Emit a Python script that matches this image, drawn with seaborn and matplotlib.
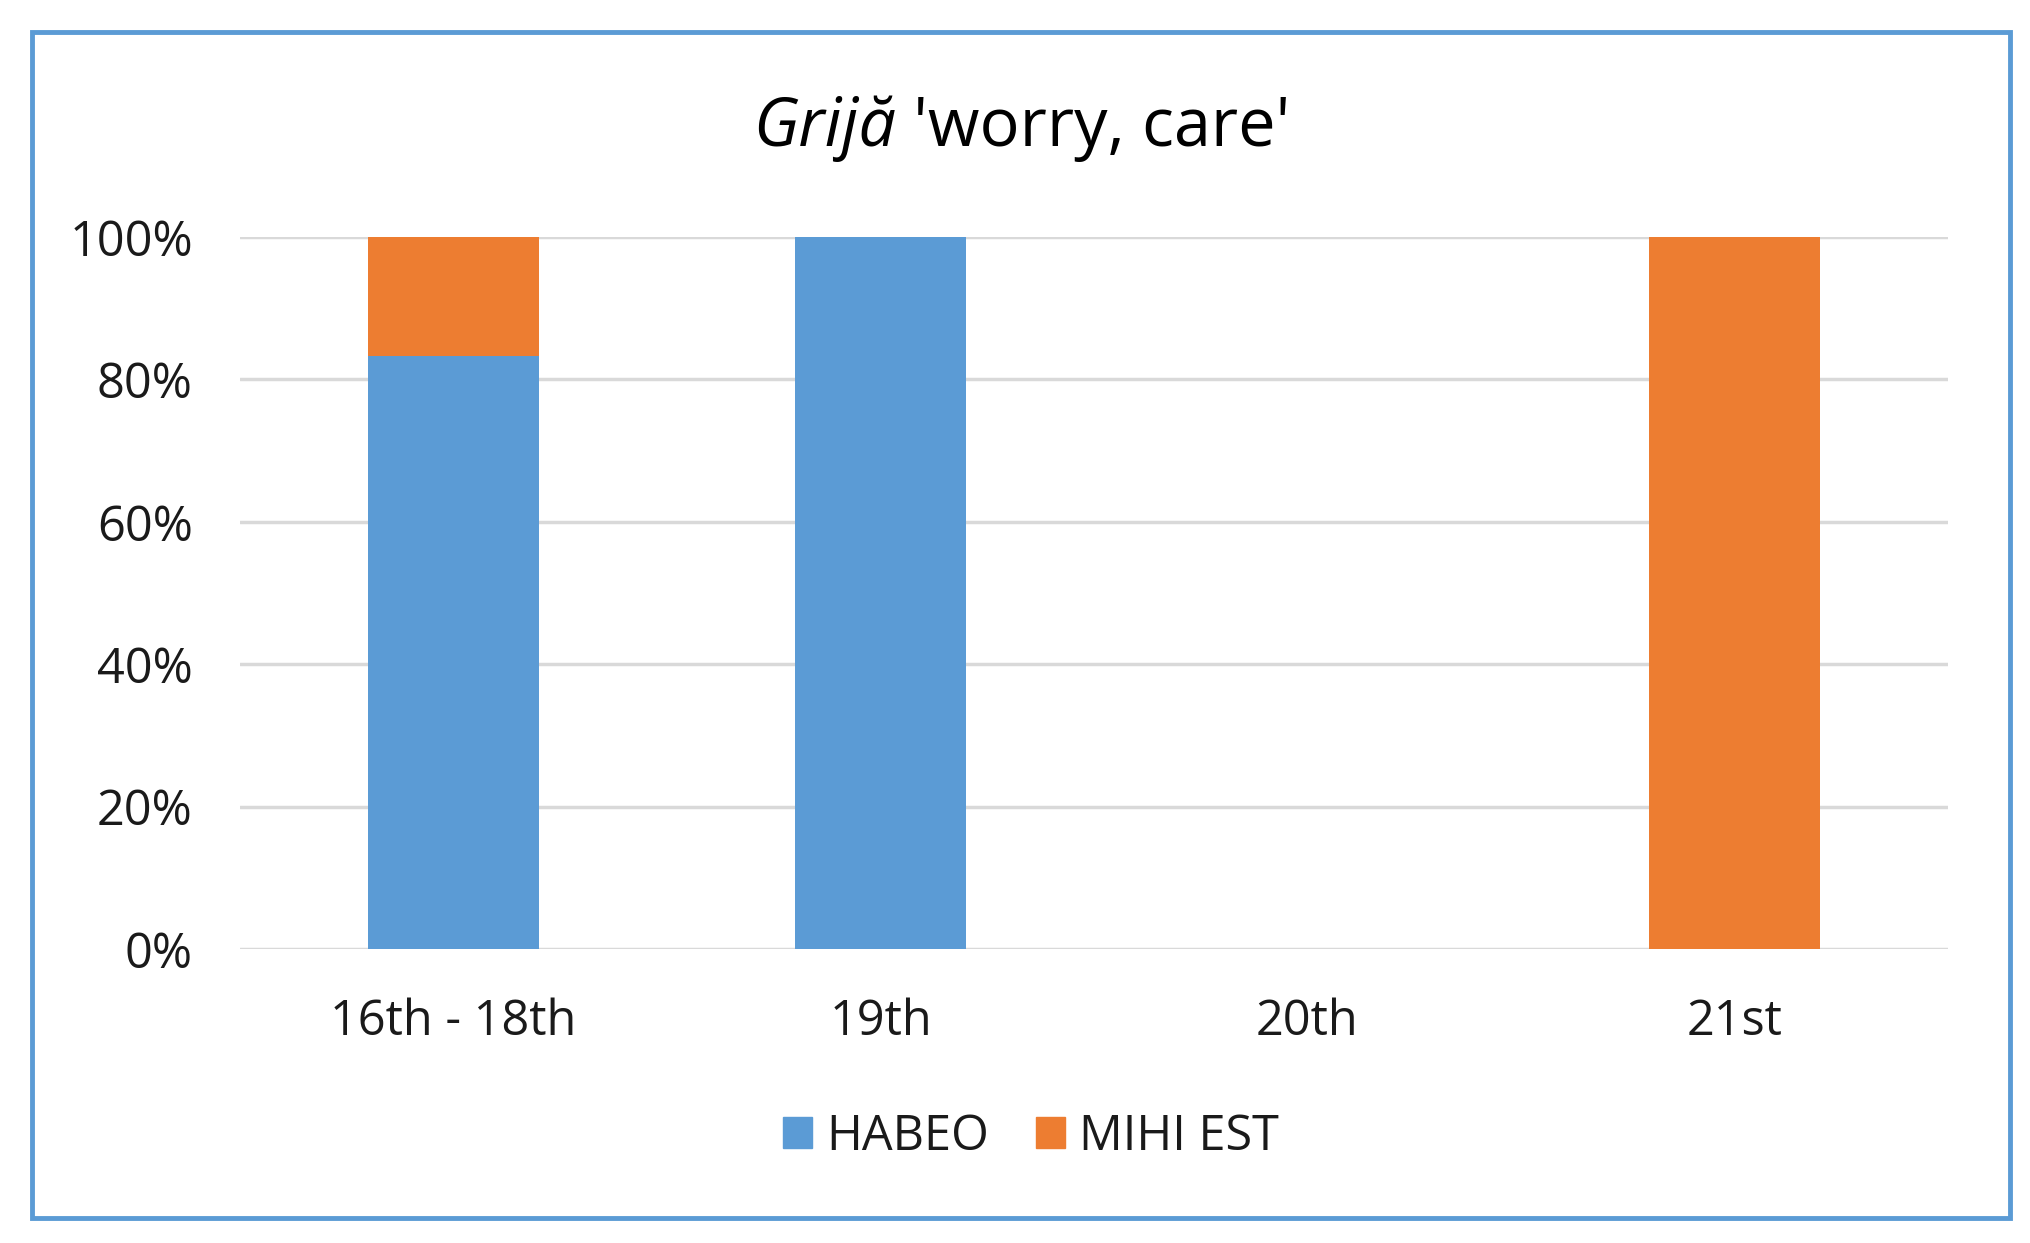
import matplotlib
matplotlib.use("Agg")
import matplotlib.pyplot as plt
import matplotlib.patches as mpatches
import seaborn as sns
import pandas as pd

categories = ["16th - 18th", "19th", "20th", "21st"]
habeo = [83.3, 100, 0, 0]
mihi_est = [16.7, 0, 0, 100]
series_names = ["HABEO", "MIHI EST"]
yticks = [0, 20, 40, 60, 80, 100]
ytick_labels = ["0%", "20%", "40%", "60%", "80%", "100%"]

BLUE = "#5B9BD5"
ORANGE = "#ED7D31"
GRID = "#D9D9D9"
TEXT = "#1a1a1a"
FONT = "Open Sans"

sns.set_theme(style="white")
plt.rcParams["font.family"] = [FONT, "DejaVu Sans"]

df = pd.DataFrame({"cat": categories, "habeo": habeo, "mihi": mihi_est})
df["total"] = df["habeo"] + df["mihi"]

fig = plt.figure(figsize=(20.3, 12.43), dpi=100)
ax = fig.add_axes([240/2030, 1-949/1243, (1948-240)/2030, (949-237)/1243])

sns.barplot(data=df, x="cat", y="total", color=ORANGE, width=0.4,
            saturation=1, ax=ax, linewidth=0, order=categories)
sns.barplot(data=df, x="cat", y="habeo", color=BLUE, width=0.4,
            saturation=1, ax=ax, linewidth=0, order=categories)

ax.set_xlim(-0.5, 3.5)
ax.set_ylim(0, 100)
ax.set_yticks(yticks)
ax.set_yticklabels(ytick_labels)
ax.set_xlabel("")
ax.set_ylabel("")
ax.yaxis.grid(True, color=GRID, linewidth=2.5)
ax.set_axisbelow(True)
for s in ax.spines.values():
    s.set_visible(False)
ax.tick_params(axis="both", length=0, labelsize=35, colors=TEXT)
ax.tick_params(axis="y", pad=34)
ax.tick_params(axis="x", pad=35)
ax.set_facecolor("none")

# border
border = mpatches.Rectangle((32/2030, 1-1218/1243), (2010-32)/2030, (1218-32)/1243,
                            transform=fig.transFigure, fill=False,
                            edgecolor=BLUE, linewidth=3.5)
fig.add_artist(border)

# title with italic part
fig.canvas.draw()
r = fig.canvas.get_renderer()
ty = 1 - 128/1243
t1 = fig.text(0, ty, "Grijă", style="italic", fontsize=48, va="center", color="black")
t2 = fig.text(0, ty, " 'worry, care'", fontsize=48, va="center", color="black")
w1 = t1.get_window_extent(r).width / 2030
w2 = t2.get_window_extent(r).width / 2030
x0 = 1022/2030 - (w1 + w2) / 2
t1.set_x(x0)
t2.set_x(x0 + w1)

handles = [mpatches.Patch(color=BLUE, label=series_names[0]),
           mpatches.Patch(color=ORANGE, label=series_names[1])]
fig.legend(handles=handles, loc="center", bbox_to_anchor=(1031/2030, 1-1137/1243),
           ncol=2, frameon=False, fontsize=35, handlelength=0.6, handleheight=0.6,
           handletextpad=0.3, columnspacing=0.95, labelcolor=TEXT)

fig.savefig("out.png", dpi=100)
